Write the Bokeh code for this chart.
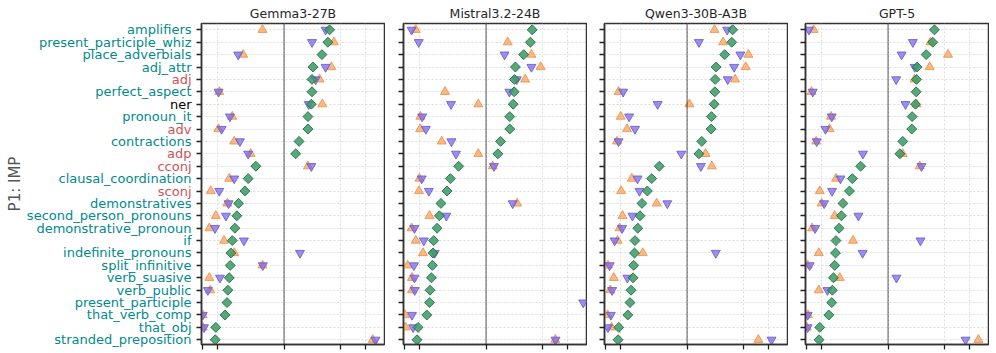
import math
from bokeh.plotting import figure
from bokeh.models import (Range1d, FixedTicker, ColumnDataSource, Span, CustomJSTickFormatter)
from bokeh.core.properties import value
from bokeh.layouts import row, column
from bokeh.embed import file_html
from bokeh.resources import INLINE

nan = float("nan")

categories = ["amplifiers", "present_participle_whiz", "place_adverbials", "adj_attr", "adj",
              "perfect_aspect", "ner", "pronoun_it", "adv", "contractions", "adp", "cconj",
              "clausal_coordination", "sconj", "demonstratives", "second_person_pronouns",
              "demonstrative_pronoun", "if", "indefinite_pronouns", "split_infinitive",
              "verb_suasive", "verb_public", "present_participle", "that_verb_comp",
              "that_obj", "stranded_preposition"]
red_labels = ["adj", "adv", "adp", "cconj", "sconj"]
black_labels = ["ner"]

models = ["Gemma3-27B", "Mistral3.2-24B", "Qwen3-30B-A3B", "GPT-5"]

green_vals = {
    "Gemma3-27B": [3.64, 3.47, 2.93, 2.27, 2.21, 2.21, 2.17, 1.97, 1.97, 1.53, 1.39, 0.449, 0.361,
                   0.329, 0.275, 0.262, 0.248, 0.230, 0.221, 0.217, 0.211, 0.203, 0.198, 0.187, 0.144, 0.142],
    "Mistral3.2-24B": [3.70, 3.52, 2.91, 2.30, 2.24, 2.22, 2.16, 1.96, 1.96, 1.51, 1.40, 0.459, 0.363,
                       0.330, 0.278, 0.266, 0.249, 0.226, 0.222, 0.218, 0.212, 0.204, 0.201, 0.186, 0.145, 0.141],
    "Qwen3-30B-A3B": [3.65, 3.55, 2.91, 2.28, 2.22, 2.20, 2.16, 2.00, 1.98, 1.52, 1.40, 0.455, 0.366,
                      0.324, 0.278, 0.263, 0.247, 0.228, 0.225, 0.220, 0.216, 0.204, 0.198, 0.186, 0.144, 0.141],
    "GPT-5": [3.73, 3.55, 2.95, 2.28, 2.24, 2.22, 2.18, 1.98, 1.96, 1.52, 1.40, 0.459, 0.363,
              0.334, 0.278, 0.266, 0.249, 0.228, 0.225, 0.220, 0.212, 0.206, 0.202, 0.186, 0.144, 0.141],
}
orange_vals = {
    "Gemma3-27B": [0.543, 4.11, 0.313, 3.82, 2.74, 0.159, 2.96, 0.230, 0.155, 0.243, 0.387, 1.97, 0.211,
                   0.125, 0.200, 0.144, 0.120, 0.182, 0.243, 0.543, 0.120, 0.123, nan, 0.0995, 0.0995, 12.4],
    "Mistral3.2-24B": [0.136, 1.85, 3.62, 4.71, 3.03, 0.312, 0.802, 0.155, 0.154, 0.284, 0.802, 1.21, 0.151,
                       0.149, 2.42, 0.201, 0.121, 0.136, 0.167, 0.108, 0.122, 0.122, nan, 0.0997, 0.102, 7.14],
    "Qwen3-30B-A3B": [2.18, 2.78, 5.70, 5.28, 3.91, 0.143, 1.07, 0.152, 0.182, 0.137, 1.69, 2.02, 0.208,
                      0.154, 0.422, 0.160, 0.147, 0.139, 0.284, 0.106, 0.125, 0.113, nan, 0.105, 0.117, 7.55],
    "GPT-5": [0.121, 3.33, 5.49, 3.26, 2.12, 0.114, 2.24, 0.198, 0.190, 0.130, 1.51, 2.46, 0.228,
              0.144, 0.152, 0.220, 0.116, 0.370, 0.140, 0.102, 0.254, 0.140, nan, 0.103, 0.0997, 13.0],
}
purple_vals = {
    "Gemma3-27B": [3.25, 2.21, 0.272, 3.25, 2.45, 0.156, 2.01, 0.215, 0.170, 0.286, 0.361, 2.17, 0.243,
                   0.159, 0.207, 0.192, 0.141, 0.320, 1.57, 0.547, 0.162, 0.115, nan, 0.0995, 0.103, 13.4],
    "Mistral3.2-24B": [0.121, 0.148, 1.69, 3.62, 2.39, 1.94, 0.370, 0.163, 0.181, 0.374, 0.426, 1.25, 0.161,
                       0.197, 2.13, 0.324, 0.131, 0.171, 0.233, 0.129, 0.131, 0.132, 15.8, 0.122, 0.126, 7.18],
    "Qwen3-30B-A3B": [3.12, 1.40, 4.54, 3.80, 3.17, 0.163, 0.434, 0.193, 0.228, 0.143, 0.849, 1.48, 0.245,
                      0.259, 0.571, 0.212, 0.158, 0.128, 2.26, 0.111, 0.184, 0.119, nan, 0.115, 0.106, 11.0],
    "GPT-5": [0.106, 2.02, 1.47, 2.13, 1.26, 0.118, 1.64, 0.202, 0.169, 0.132, 0.490, 2.58, 0.259,
              0.204, 0.163, 0.431, 0.126, 2.51, 0.486, 0.108, 1.27, 0.179, nan, 0.102, 0.102, 9.03],
}

x_ticks = [0.1, 0.15, 1, 5, 10]
ref_line = 1
x_lo, x_hi = 0.096, 17.3
y_label = "P1: IMP"

FONT = "DejaVu Sans"
TEAL = "#008b8b"
RED = "#d0525a"

n = len(categories)
rows_idx = list(range(n))

# frame geometry (pixels)
TOP, FRAME_H, BOTTOM = 23, 321, 9
y_top, y_bot = -0.51, n - 1 + 0.38
px_per_row = FRAME_H / (y_bot - y_top)

# ---- label column (category names + y title); frame a little taller so text is not clipped ----
LAB_W = 193
EXT_T, EXT_B = 6, 7
lab = figure(frame_width=LAB_W, frame_height=FRAME_H + EXT_T + EXT_B,
             x_range=Range1d(0, LAB_W),
             y_range=Range1d(y_bot + EXT_B / px_per_row, y_top - EXT_T / px_per_row),
             min_border_left=0, min_border_right=0,
             min_border_top=TOP - EXT_T, min_border_bottom=BOTTOM - EXT_B,
             output_backend="svg", toolbar_location=None)
lab.axis.visible = False
lab.grid.visible = False
lab.outline_line_color = None
colors = [RED if c in red_labels else ("black" if c in black_labels else TEAL) for c in categories]
lab_src = ColumnDataSource(dict(y=rows_idx, name=categories, color=colors, x=[LAB_W] * n))
lab.text(x="x", y="y", text="name", source=lab_src, x_offset=-2,
         text_color="color", text_font_size="13px", text_font=value(FONT),
         text_align="right", text_baseline="middle")
lab.text(x=[14], y=[(y_top + y_bot) / 2], text=[y_label], angle=math.pi / 2,
         text_align="center", text_baseline="middle", text_font=value(FONT),
         text_font_size="15px", text_color="#555555")

blank = CustomJSTickFormatter(code="return ''")

figs = []
for k, m in enumerate(models):
    first = (k == 0)
    p = figure(x_axis_type="log",
               x_range=Range1d(x_lo, x_hi),
               y_range=Range1d(y_bot, y_top),
               frame_width=183, frame_height=FRAME_H,
               min_border_left=8 if first else (18 if k == 1 else 17),
               min_border_right=1, min_border_top=TOP, min_border_bottom=BOTTOM,
               output_backend="svg", toolbar_location=None,
               title=m)
    p.title.align = "center"
    p.title.text_font = FONT
    p.title.text_font_size = "12.5px"
    p.title.text_font_style = "normal"
    p.title.text_color = "#262626"
    p.title.standoff = 5
    p.title.offset = 0

    p.outline_line_color = "#333333"
    p.outline_line_width = 1.5
    p.outline_line_alpha = 1.0

    for ax in (p.xaxis[0], p.yaxis[0]):
        ax.axis_line_color = "#333333"
        ax.axis_line_width = 1.5
        ax.major_tick_line_color = "#222222"
        ax.major_tick_line_width = 1.3
        ax.major_tick_out = 5
        ax.major_tick_in = 0
        ax.minor_tick_line_color = None
        ax.formatter = blank
        ax.major_label_standoff = 0

    p.xaxis.ticker = FixedTicker(ticks=x_ticks, minor_ticks=[])
    p.yaxis.ticker = FixedTicker(ticks=rows_idx, minor_ticks=[])

    p.xgrid.ticker = FixedTicker(ticks=x_ticks, minor_ticks=[])
    p.ygrid.ticker = FixedTicker(ticks=rows_idx, minor_ticks=[])
    for g in (p.xgrid[0], p.ygrid[0]):
        g.grid_line_color = "#d4d4d4"
        g.grid_line_dash = "2 2"
        g.grid_line_width = 0.8

    p.add_layout(Span(location=ref_line, dimension="height", line_color="black",
                      line_dash="1 1", line_width=1.3))

    src = ColumnDataSource(dict(y=rows_idx,
                                g=green_vals[m], o=orange_vals[m], pu=purple_vals[m]))
    p.scatter(x="o", y="y", source=src, marker="triangle", size=9,
              fill_color="#f4a460", fill_alpha=0.75, line_color="#f08a3c", line_alpha=0.8)
    p.scatter(x="pu", y="y", source=src, marker="inverted_triangle", size=9,
              fill_color="#7b68ee", fill_alpha=0.75, line_color="#6a5acd", line_alpha=0.85)
    p.scatter(x="g", y="y", source=src, marker="square", angle=math.pi / 4, size=7,
              fill_color="#3a9a64", fill_alpha=0.85, line_color="#1f6e42", line_alpha=0.9)
    figs.append(p)

layout = row(column(lab), row(*figs, spacing=0), spacing=0)
open("out.html", "w").write(file_html(layout, INLINE))
